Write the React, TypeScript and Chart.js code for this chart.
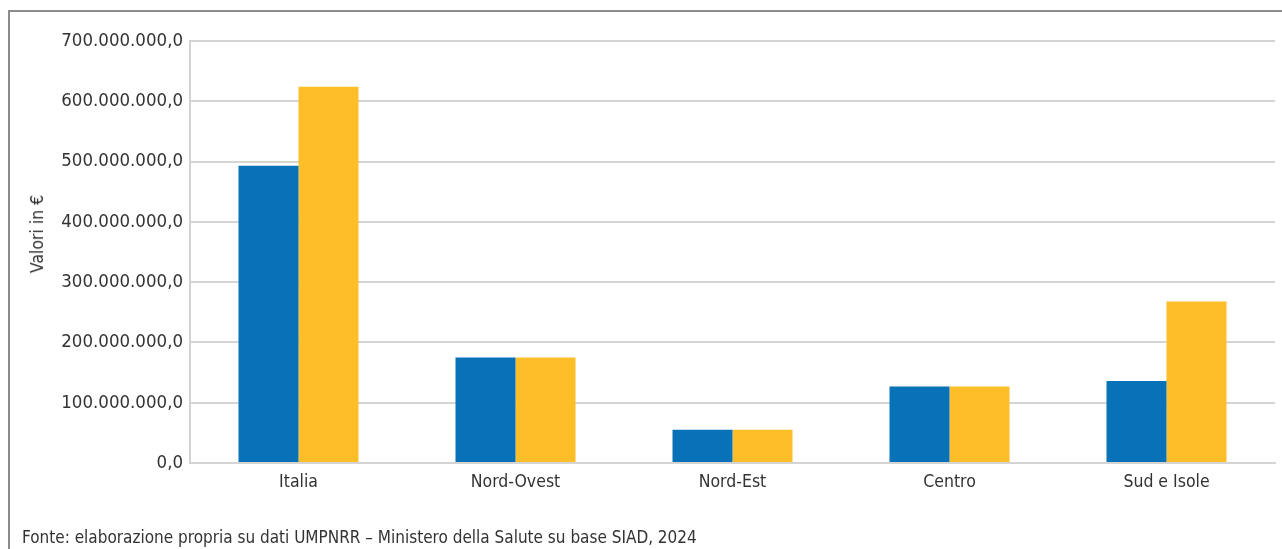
import React, { useEffect, useRef } from "react";
import { Chart, registerables } from "chart.js";

Chart.register(...registerables);

const categories = ["Italia", "Nord-Ovest", "Nord-Est", "Centro", "Sud e Isole"];
const seriesA = [493000000, 175000000, 55000000, 127000000, 136000000];
const seriesB = [624000000, 175000000, 55000000, 127000000, 268000000];
const seriesNames = ["Serie 1", "Serie 2"];
const yAxisTitle = "Valori in €";
const footerText = "Fonte: elaborazione propria su dati UMPNRR – Ministero della Salute su base SIAD, 2024";
const yMax = 700000000;
const yStep = 100000000;

const FONT = "'DejaVu Sans Condensed', 'DejaVu Sans', sans-serif";
const TEXT_COLOR = "#333333";

function formatIt(v: number): string {
  const int = Math.round(v).toString();
  const withDots = int.replace(/\B(?=(\d{3})+(?!\d))/g, ".");
  return withDots + ",0";
}

export default function App() {
  const canvasRef = useRef<HTMLCanvasElement | null>(null);

  useEffect(() => {
    if (!canvasRef.current) return;
    const chart = new Chart(canvasRef.current, {
      type: "bar",
      data: {
        labels: categories,
        datasets: [
          {
            label: seriesNames[0],
            data: seriesA,
            backgroundColor: "#0872b9",
            categoryPercentage: 0.553,
            barPercentage: 1,
          },
          {
            label: seriesNames[1],
            data: seriesB,
            backgroundColor: "#fdbe28",
            categoryPercentage: 0.553,
            barPercentage: 1,
          },
        ],
      },
      options: {
        animation: false,
        responsive: true,
        maintainAspectRatio: false,
        layout: { padding: { top: 29, right: 7, bottom: 0, left: 0 } },
        plugins: {
          legend: { display: false },
          tooltip: { enabled: false },
          title: { display: false },
        },
        scales: {
          x: {
            grid: { display: false, drawTicks: false },
            border: { display: true, color: "#d4d4d4", width: 2 },
            ticks: {
              color: TEXT_COLOR,
              font: { family: FONT, size: 17.5 },
              padding: 9,
              maxRotation: 0,
            },
            afterFit: (s: any) => {
              s.height = 86;
            },
          },
          y: {
            min: 0,
            max: yMax,
            grid: { color: "#d4d4d4", lineWidth: 2, drawTicks: false },
            border: { display: true, color: "#d4d4d4", width: 2 },
            ticks: {
              stepSize: yStep,
              color: TEXT_COLOR,
              font: { family: FONT, size: 18.5 },
              padding: 7,
              callback: (v: any) => formatIt(Number(v)),
            },
            afterFit: (s: any) => {
              s.width = 180;
            },
          },
        },
      },
    });
    return () => chart.destroy();
  }, []);

  return (
    <div
      style={{
        position: "fixed",
        left: 8,
        top: 10,
        width: 1274,
        height: 539,
        boxSizing: "border-box",
        borderTop: "2px solid #8c8c8c",
        borderLeft: "2px solid #8c8c8c",
        background: "#ffffff",
        fontFamily: FONT,
        color: TEXT_COLOR,
      }}
    >
      <div style={{ position: "absolute", left: 0, top: 0, width: 1272, height: 537 }}>
        <canvas ref={canvasRef} />
      </div>
      <div
        style={{
          position: "absolute",
          left: 27,
          top: 222,
          transform: "translate(-50%, -50%) rotate(-90deg)",
          whiteSpace: "nowrap",
          fontSize: 17.5,
          lineHeight: "22px",
        }}
      >
        {yAxisTitle}
      </div>
      <div
        style={{
          position: "absolute",
          left: 12,
          top: 514,
          whiteSpace: "nowrap",
          fontSize: 17,
          lineHeight: "22px",
        }}
      >
        {footerText}
      </div>
    </div>
  );
}
